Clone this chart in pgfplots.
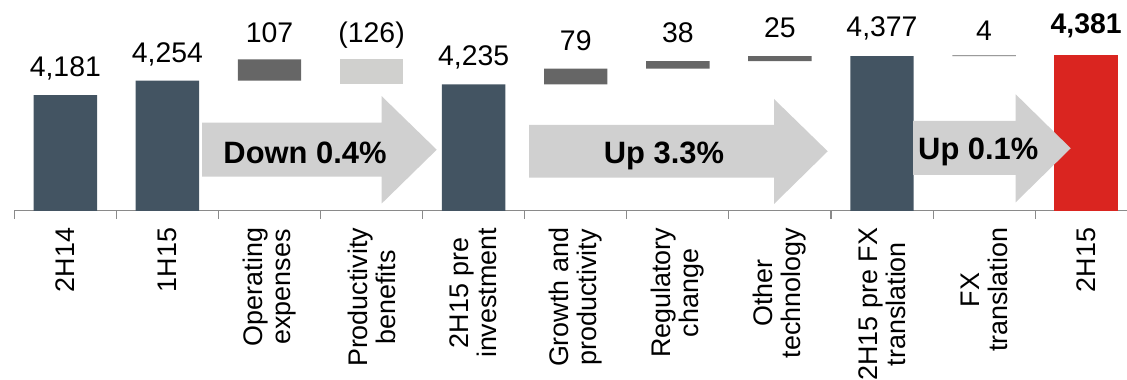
\documentclass[border=0pt]{standalone}
\usepackage{pgfplots}
\pgfplotsset{compat=1.18}
\usepackage{fontspec}
\setmainfont{Liberation Sans}
\definecolor{slate}{HTML}{435462}
\definecolor{dkgray}{HTML}{666666}
\definecolor{ltgray}{HTML}{D0D0CE}
\definecolor{redbar}{HTML}{DA2520}
\definecolor{arrowgray}{HTML}{D0D0D0}
\definecolor{axisgray}{HTML}{8A8A8A}
\newcommand{\vl}[4]{\node[anchor=base, yshift=#3bp, font=\fontsize{28.5}{28.5}\selectfont] at (axis cs:#1,#2) {#4};}
\begin{document}
\begin{tikzpicture}
\begin{axis}[
  at={(0,0)}, anchor=south west, scale only axis,
  width=1112.7bp, height=210.7bp,
  xmin=-0.5, xmax=10.4, ymin=3600, ymax=4659,
  ybar stacked, bar width=63.4bp,
  axis y line=none, axis x line*=bottom,
  axis line style={draw=axisgray, line width=1.3bp},
  xtick={0,1,2,3,4,5,6,7,8,9,10},
  xticklabels={2H14, 1H15, {Operating\\expenses}, {Productivity\\benefits}, {2H15 pre\\investment}, {Growth and\\productivity}, {Regulatory\\change}, {Other\\technology}, {2H15 pre FX\\translation}, {FX\\translation}, 2H15},
  major tick length=0pt,
  minor xtick={-0.5,0.5,1.5,2.5,3.5,4.5,5.5,6.5,7.5,8.5,9.5},
  minor tick length=8bp,
  tick align=outside,
  tick style={draw=axisgray, line width=1.1bp},
  xticklabel style={rotate=90, anchor=east, align=center, font=\fontsize{27}{28}\selectfont, inner sep=0pt},
  xticklabel shift=17bp,
  clip=true,
]
% invisible base
\addplot[draw=none, fill=none] coordinates {(0,0) (1,0) (2,4254) (3,4235) (4,0) (5,4235) (6,4314) (7,4352) (8,0) (9,4377) (10,0)};
% totals
\addplot[draw=none, fill=slate] coordinates {(0,4181) (1,4254) (2,0) (3,0) (4,4235) (5,0) (6,0) (7,0) (8,4377) (9,0) (10,0)};
% increases
\addplot[draw=none, fill=dkgray] coordinates {(0,0) (1,0) (2,107) (3,0) (4,0) (5,79) (6,38) (7,25) (8,0) (9,4) (10,0)};
% decreases
\addplot[draw=none, fill=ltgray] coordinates {(0,0) (1,0) (2,0) (3,126) (4,0) (5,0) (6,0) (7,0) (8,0) (9,0) (10,0)};
% final
\addplot[draw=none, fill=redbar] coordinates {(0,0) (1,0) (2,0) (3,0) (4,0) (5,0) (6,0) (7,0) (8,0) (9,0) (10,4381)};
\vl{0}{4181}{19}{4,181}
\vl{1}{4254}{18}{4,254}
\vl{2}{4361}{16.5}{107}
\vl{3}{4361}{16.5}{(126)}
\vl{4}{4235}{19}{4,235}
\vl{5}{4314}{18.3}{79}
\vl{6}{4352}{19}{38}
\vl{7}{4377}{19}{25}
\vl{8}{4377}{19.3}{4,377}
\vl{9}{4381}{14.5}{4}
\vl{10}{4381}{21.7}{\bfseries 4,381}
\end{axis}
% arrows
\fill[arrowgray] (187.7bp,88bp) -- (367.4bp,88bp) -- (367.4bp,114.5bp) -- (422.4bp,61bp) -- (367.4bp,7.2bp) -- (367.4bp,34bp) -- (187.7bp,34bp) -- cycle;
\fill[arrowgray] (514.7bp,85.7bp) -- (759.7bp,85.7bp) -- (759.7bp,111.7bp) -- (813.4bp,59.4bp) -- (759.7bp,6.7bp) -- (759.7bp,33bp) -- (514.7bp,33bp) -- cycle;
\fill[arrowgray] (898.7bp,89.7bp) -- (1001.4bp,89.7bp) -- (1001.4bp,116.4bp) -- (1056.4bp,62.4bp) -- (1001.4bp,8.4bp) -- (1001.4bp,35.7bp) -- (898.7bp,35.7bp) -- cycle;
\node[anchor=base, font=\bfseries\fontsize{31}{31}\selectfont] at (290.7bp,47.4bp) {Down 0.4\%};
\node[anchor=base, font=\bfseries\fontsize{31}{31}\selectfont] at (649.7bp,47.4bp) {Up 3.3\%};
\node[anchor=base, font=\bfseries\fontsize{31}{31}\selectfont] at (964bp,50.7bp) {Up 0.1\%};
\pgfresetboundingbox
\path[use as bounding box] (-14.3bp,-169.3bp) rectangle (1112.7bp,210.7bp);
\end{tikzpicture}
\end{document}
